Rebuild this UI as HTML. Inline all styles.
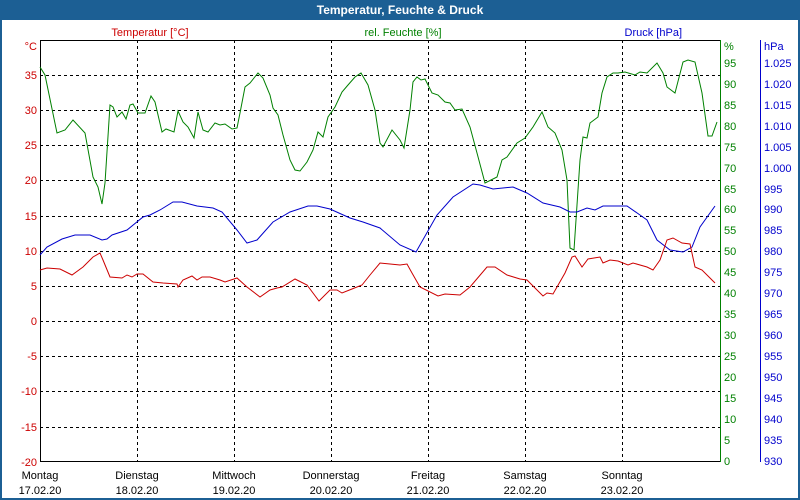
<!DOCTYPE html>
<html><head><meta charset="utf-8"><style>
html,body{margin:0;padding:0;background:#fff}
svg{display:block;font-family:"Liberation Sans",sans-serif}
</style></head><body>
<svg width="800" height="500" viewBox="0 0 800 500" xmlns="http://www.w3.org/2000/svg">
<rect x="0" y="0" width="800" height="500" fill="#1c5f94"/>
<rect x="2" y="20" width="796" height="478" fill="#fff"/>
<text x="400" y="14" fill="#fff" font-size="12" font-weight="bold" text-anchor="middle">Temperatur, Feuchte &amp; Druck</text>
<g stroke="#000" stroke-width="1" stroke-dasharray="3,3" fill="none">
<path d="M40,75.5H720M40,110.5H720M40,145.5H720M40,180.5H720M40,216.5H720M40,251.5H720M40,286.5H720M40,321.5H720M40,356.5H720M40,391.5H720M40,427.5H720"/>
<path d="M137.5,40V461M234.5,40V461M331.5,40V461M428.5,40V461M525.5,40V461M622.5,40V461"/>
</g>
<path d="M40.5,40V461.5H720M40,40.5H720" stroke="#000" fill="none"/>
<path d="M720.5,40V462" stroke="#008000" fill="none"/>
<path d="M760.5,40V462" stroke="#0000cc" fill="none"/>
<g font-size="11">
<text x="150" y="36" fill="#cc0000" text-anchor="middle">Temperatur [°C]</text>
<text x="403" y="36" fill="#008000" text-anchor="middle">rel. Feuchte [%]</text>
<text x="682" y="36" fill="#0000cc" text-anchor="end">Druck [hPa]</text>
<text x="37" y="50" fill="#cc0000" text-anchor="end">°C</text>
<text x="724" y="50" fill="#008000">%</text>
<text x="764" y="50" fill="#0000cc">hPa</text>
<g fill="#cc0000" text-anchor="end">
<text x="37" y="79">35</text><text x="37" y="114">30</text><text x="37" y="149">25</text><text x="37" y="184">20</text><text x="37" y="220">15</text><text x="37" y="255">10</text><text x="37" y="290">5</text><text x="37" y="325">0</text><text x="37" y="360">-5</text><text x="37" y="395">-10</text><text x="37" y="431">-15</text><text x="37" y="466">-20</text>
</g>
<g fill="#008000" id="hum"></g>
<g fill="#0000cc" id="pr"></g>
<g text-anchor="middle" fill="#000">
<text x="40" y="479">Montag</text><text x="40" y="494">17.02.20</text>
<text x="137" y="479">Dienstag</text><text x="137" y="494">18.02.20</text>
<text x="234" y="479">Mittwoch</text><text x="234" y="494">19.02.20</text>
<text x="331" y="479">Donnerstag</text><text x="331" y="494">20.02.20</text>
<text x="428" y="479">Freitag</text><text x="428" y="494">21.02.20</text>
<text x="525" y="479">Samstag</text><text x="525" y="494">22.02.20</text>
<text x="622" y="479">Sonntag</text><text x="622" y="494">23.02.20</text>
</g>
<g fill="#008000">
<text x="724" y="465">0</text><text x="724" y="444">5</text><text x="724" y="423">10</text><text x="724" y="402">15</text><text x="724" y="381">20</text><text x="724" y="360">25</text><text x="724" y="339">30</text><text x="724" y="318">35</text><text x="724" y="297">40</text><text x="724" y="276">45</text><text x="724" y="255">50</text><text x="724" y="234">55</text><text x="724" y="213">60</text><text x="724" y="193">65</text><text x="724" y="172">70</text><text x="724" y="151">75</text><text x="724" y="130">80</text><text x="724" y="109">85</text><text x="724" y="88">90</text><text x="724" y="67">95</text>
</g>
<g fill="#0000cc">
<text x="764" y="465">930</text><text x="764" y="444">935</text><text x="764" y="423">940</text><text x="764" y="402">945</text><text x="764" y="381">950</text><text x="764" y="360">955</text><text x="764" y="339">960</text><text x="764" y="318">965</text><text x="764" y="297">970</text><text x="764" y="276">975</text><text x="764" y="255">980</text><text x="764" y="234">985</text><text x="764" y="213">990</text><text x="764" y="193">995</text><text x="764" y="172">1.000</text><text x="764" y="151">1.005</text><text x="764" y="130">1.010</text><text x="764" y="109">1.015</text><text x="764" y="88">1.020</text><text x="764" y="67">1.025</text>
</g>
</g>
<polyline fill="none" stroke="#008000" stroke-width="1" points="40,67 45,75 57,133 65,130 73,120 85,133 93,177 98,187 102,204 105,183 110,105 113,107 117,117 122,112 126,119 130,105 133,104 138,113 145,113 151,96 155,102 162,132 166,129 174,132 178,111 183,122 188,127 194,138 198,112 203,130 208,132 215,123 220,125 225,124 232,129 237,128 240,113 245,87 250,83 258,73 263,78 270,95 273,108 278,115 283,135 290,160 295,170 300,171 307,162 313,150 318,132 323,137 328,117 335,107 342,92 348,85 355,77 361,73 368,85 375,110 380,143 383,147 392,130 400,140 404,148 410,110 413,82 417,77 421,80 425,79 432,93 438,95 445,102 450,103 455,110 462,109 470,127 477,153 485,183 497,177 502,160 507,157 517,143 525,138 533,127 542,112 548,127 555,133 562,150 567,180 570,248 574,250 580,160 583,137 587,138 590,123 598,117 602,93 607,77 613,73 618,73 625,72 635,75 640,72 647,73 657,63 663,73 667,87 675,93 683,62 688,60 695,62 702,93 708,136 712,136 717,122"/>
<polyline fill="none" stroke="#0000cc" stroke-width="1" points="40,255 47,247 62,239 75,235 90,235 102,240 107,239 112,235 127,230 143,217 150,215 160,210 173,202 182,202 197,206 213,208 222,212 237,230 247,243 257,240 273,222 290,212 308,206 317,206 330,209 350,218 363,222 380,228 400,245 416,252 437,215 453,197 473,184 480,185 493,189 513,187 527,193 543,203 560,207 570,212 577,212 587,208 595,210 603,206 627,206 640,215 647,220 657,240 670,250 683,252 692,247 700,227 715,206"/>
<polyline fill="none" stroke="#cc0000" stroke-width="1" points="40,270 47,268 60,269 72,275 83,267 93,257 100,253 103,260 110,277 122,278 127,275 132,277 137,274 143,274 153,282 163,283 177,284 178,287 183,280 192,276 197,280 202,277 210,277 220,280 225,282 237,278 247,287 260,297 270,290 277,288 282,287 295,279 307,285 319,301 330,290 337,290 342,293 352,289 362,285 370,275 380,263 390,264 400,265 407,264 412,273 420,287 438,296 445,294 460,295 470,287 487,267 495,267 507,275 520,279 527,280 535,288 543,296 547,293 553,294 565,273 572,257 575,256 582,267 588,259 600,257 603,263 610,260 618,261 628,265 633,263 647,267 653,270 660,260 667,240 673,238 682,243 690,244 695,267 702,270 710,278 715,283"/>
</svg>
</body></html>
